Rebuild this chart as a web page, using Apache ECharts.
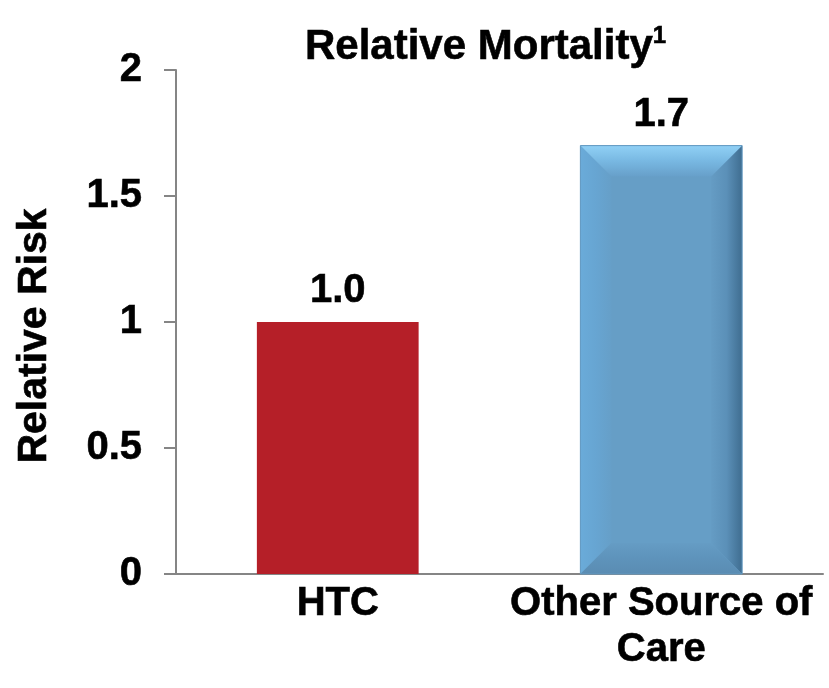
<!DOCTYPE html>
<html>
<head>
<meta charset="utf-8">
<script src="https://cdn.jsdelivr.net/npm/echarts@6/dist/echarts.min.js"></script>
<style>
  html, body { margin: 0; padding: 0; background: #fff; }
  #main { width: 829px; height: 688px; }
</style>
</head>
<body>
<div id="main"></div>
<script>
// data
var categories = ['HTC', 'Other Source of\nCare'];
var riskValues = [1.0, 1.7];
var yTicks = [0, 0.5, 1, 1.5, 2];

var fontFam = '"Liberation Sans", Arial, sans-serif';
var axisGray = '#858585';

// text style shared by all labels (slight stroke to make the bold heavier)
function boldText(size) {
	return {
		color: '#000',
		fontFamily: fontFam,
		fontWeight: 'bold',
		fontSize: size,
		textBorderColor: '#000',
		textBorderWidth: 0.6
	};
}

var barData = [];
for (var i = 0; i < riskValues.length; i++) {
	var item = { value: riskValues[i] };
	if (i == 0) {
		item.itemStyle = { color: '#b51f28' };
	} else {
		item.itemStyle = { color: '#669ec6' };
	}
	barData.push(item);
}

// bevel faces for the blue bar only
var bevelData = [[1, riskValues[1]]];

function grad(x0, y0, x1, y1, stops) {
	var list = [];
	for (var k = 0; k < stops.length; k++) {
		list.push({ offset: k / (stops.length - 1), color: stops[k] });
	}
	return new echarts.graphic.LinearGradient(x0, y0, x1, y1, list);
}

function renderBevel(params, api) {
	var top = api.coord([api.value(0), api.value(1)]);
	var base = api.coord([api.value(0), 0]);
	var bw = api.size([1, 0])[0] * 0.5;
	var L = top[0] - bw / 2, R = top[0] + bw / 2;
	var T = top[1], B = base[1];
	var b = 31;
	return {
		type: 'group',
		children: [
			{ // left face
				type: 'polygon',
				shape: { points: [[L, T], [L + b, T + b], [L + b, B - b], [L, B]] },
				style: { fill: grad(0, 0, 1, 0, ['#6aabd9', '#67a5d2', '#669fc8']) }
			},
			{ // right face
				type: 'polygon',
				shape: { points: [[R, T], [R, B], [R - b, B - b], [R - b, T + b]] },
				style: { fill: grad(0, 0, 1, 0, ['#659cc4', '#5b90b8', '#3f6d90']) }
			},
			{ // top face
				type: 'polygon',
				shape: { points: [[L, T], [R, T], [R - b, T + b], [L + b, T + b]] },
				style: { fill: grad(0, 0, 0, 1, ['#90d0f5', '#78b8e2', '#679fc9']) }
			},
			{ // bottom face
				type: 'polygon',
				shape: { points: [[L, B], [L + b, B - b], [R - b, B - b], [R, B]] },
				style: { fill: grad(0, 0, 0, 1, ['#659cc4', '#5e93bb', '#5a8cb2']) }
			},
			{ // outline
				type: 'rect',
				shape: { x: L, y: T, width: bw, height: B - T },
				style: { fill: 'none', stroke: '#6399c1', lineWidth: 1 }
			}
		]
	};
}

var option = {
	backgroundColor: '#fff',
	animation: false,
	title: {
		text: '{t|Relative Mortality}{s|1}',
		left: 300,
		top: 19,
		textStyle: {
			rich: {
				t: Object.assign(boldText(42), { lineHeight: 46 }),
				s: Object.assign(boldText(24), { verticalAlign: 'top', lineHeight: 46, padding: [0, 0, 18, 0] })
			}
		}
	},
	grid: {
		top: 70,
		bottom: 114,
		left: 176,
		right: 6
	},
	xAxis: {
		type: 'category',
		data: categories,
		axisLine: { lineStyle: { color: axisGray, width: 2 } },
		axisTick: { show: false },
		axisLabel: Object.assign(boldText(40), {
			lineHeight: 46,
			margin: 7,
			interval: 0
		})
	},
	yAxis: {
		type: 'value',
		min: yTicks[0],
		max: yTicks[yTicks.length - 1],
		interval: 0.5,
		name: 'Relative Risk',
		nameLocation: 'middle',
		nameRotate: 90,
		nameGap: 121,
		nameTextStyle: Object.assign(boldText(41), { padding: [0, 28, 0, 0] }),
		axisLine: { show: true, lineStyle: { color: axisGray, width: 2 } },
		axisTick: { show: true, length: 12, lineStyle: { color: axisGray, width: 2 } },
		splitLine: { show: false },
		axisLabel: Object.assign(boldText(40), { margin: 34 })
	},
	series: [{
		type: 'bar',
		data: barData,
		barWidth: '50%',
		z: 2,
		label: Object.assign(boldText(40), {
			show: true,
			position: 'top',
			distance: 11,
			formatter: function (p) { return p.value.toFixed(1); }
		})
	}, {
		type: 'custom',
		data: bevelData,
		z: 3,
		silent: true,
		renderItem: renderBevel
	}]
};

var myChart = echarts.init(document.getElementById('main'));
myChart.setOption(option);
</script>
</body>
</html>
